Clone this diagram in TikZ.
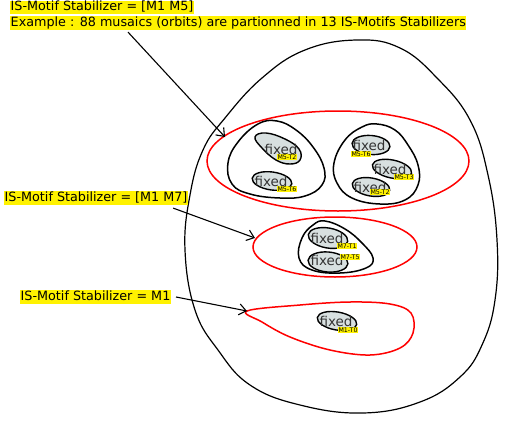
\documentclass[tikz,border=0pt]{standalone}
\usepackage{fontspec}
\setmainfont{DejaVu Sans}
\usetikzlibrary{arrows.meta}
\definecolor{fixgray}{HTML}{D8E0E0}
\definecolor{fixtxt}{HTML}{333333}
\tikzset{
  stab/.style={fill=yellow,inner sep=0.5pt,anchor=west,text height=9.8pt,text depth=3pt,font=\fontsize{12.75}{14}\selectfont},
  redset/.style={line width=1.5pt,red},
  orbit/.style={line width=1.5pt,black},
  fixblob/.style={draw=black,line width=1.4pt,fill=fixgray},
  fixtext/.style={text=fixtxt,inner sep=0pt,font=\fontsize{13.5}{14}\selectfont},
  tag/.style={fill=yellow,inner sep=0.4pt,font=\fontsize{6.3}{7}\selectfont},
  stabarrow/.style={line width=1.1pt,-{Straight Barb[length=7pt,width=11pt]}}
}
\begin{document}
\begin{tikzpicture}[x=1pt,y=-1pt]
\useasboundingbox (0,0) rectangle (514,423);
    \draw [line width=1.2pt] plot [smooth cycle, tension=0.7] coordinates {(357,40) (400,48) (437,78) (470,120) (488,175) (497,240) (495,300) (482,345) (460,377) (420,402) (363,413) (300,405) (250,385) (218,350) (195,310) (185,250) (190,195) (203,150) (225,118) (262,78) (305,50)};
    % stabilizer sets
    \draw [redset] (338,161) ellipse [x radius=131, y radius=50];
    \draw [redset] (335,247) ellipse [x radius=82, y radius=30];
    \draw [redset] plot [smooth cycle, tension=0.6] coordinates {(247,311) (300,305) (350,302) (390,304) (411,313) (413,333) (400,348) (370,355) (330,350) (290,337) (262,322)};
    % orbits
    \draw [orbit] plot [smooth cycle, tension=0.7] coordinates {(277,121) (296,130) (313,147) (324,168) (322,185) (305,196) (280,198) (250,194) (232,184) (228,163) (238,142) (258,124)};
    \draw [orbit] plot [smooth cycle, tension=0.7] coordinates {(377,124) (395,130) (408,145) (418,165) (418,185) (405,200) (380,204) (352,198) (337,183) (334,163) (345,140) (362,127)};
    \draw [orbit] plot [smooth cycle, tension=0.7] coordinates {(325,221) (345,229) (362,243) (373,258) (366,268) (340,273) (312,270) (299,258) (302,238) (313,225)};
    % fixed motifs
    \draw [fixblob] plot [smooth cycle, tension=0.7] coordinates {(255,137) (266,133) (285,139) (299,149) (300,160) (290,164) (276,160) (262,148)};
    \draw [fixblob,rotate around={-8:(272,181)}] (272,181) ellipse [x radius=20, y radius=9];
    \draw [fixblob,rotate around={-5:(371,145)}] (371,145) ellipse [x radius=19, y radius=9.5];
    \draw [fixblob,rotate around={-12:(392,169)}] (392,169) ellipse [x radius=20, y radius=9];
    \draw [fixblob,rotate around={-10:(371,187)}] (371,187) ellipse [x radius=19, y radius=9];
    \draw [fixblob,rotate around={-10:(328,238)}] (328,238) ellipse [x radius=20, y radius=10];
    \draw [fixblob,rotate around={-5:(328,262)}] (328,262) ellipse [x radius=20, y radius=10];
    \draw [fixblob,rotate around={-10:(337,321)}] (337,321) ellipse [x radius=20, y radius=9];
    \node [fixtext] (fxA) at (281,149) {fixed};
    \node [fixtext] (fxB) at (271,181) {fixed};
    \node [fixtext] (fxC) at (369,145) {fixed};
    \node [fixtext] (fxD) at (390,169) {fixed};
    \node [fixtext] (fxE) at (370,187) {fixed};
    \node [fixtext] (fxF) at (327,238) {fixed};
    \node [fixtext] (fxG) at (327,260) {fixed};
    \node [fixtext] (fxH) at (336,321) {fixed};
    \node [tag] (tgA) at (287,157) {M5-T2};
    \node [tag] (tgB) at (287,189) {M5-T6};
    \node [tag] (tgC) at (361,154) {M5-T6};
    \node [tag] (tgD) at (404,177) {M5-T3};
    \node [tag] (tgE) at (380,192) {M5-T2};
    \node [tag] (tgF) at (347,246) {M7-T1};
    \node [tag] (tgG) at (350,257) {M7-T5};
    \node [tag] (tgH) at (348,330) {M1-T0};
    % labels
    \node [stab] (stabA) at (10,7.5) {IS-Motif Stabilizer = [M1 M5]};
    \node [stab] (example) at (10,23) {Example : 88 musaics (orbits) are partionned in 13 IS-Motifs Stabilizers};
    \node [stab] (stabB) at (4,198) {IS-Motif Stabilizer = [M1 M7]};
    \node [stab] (stabC) at (20,297) {IS-Motif Stabilizer = M1};
    \coordinate (tipA) at (225,137);
    \coordinate (tipB) at (255,238);
    \coordinate (tipC) at (247,311);
    \draw [stabarrow] (example.south west) ++(118,2) -- (tipA);
    \draw [stabarrow] (stabB.south east) ++(-15,3) -- (tipB);
    \draw [stabarrow] (stabC.east) ++(5,0) -- (tipC);
\end{tikzpicture}
\end{document}
